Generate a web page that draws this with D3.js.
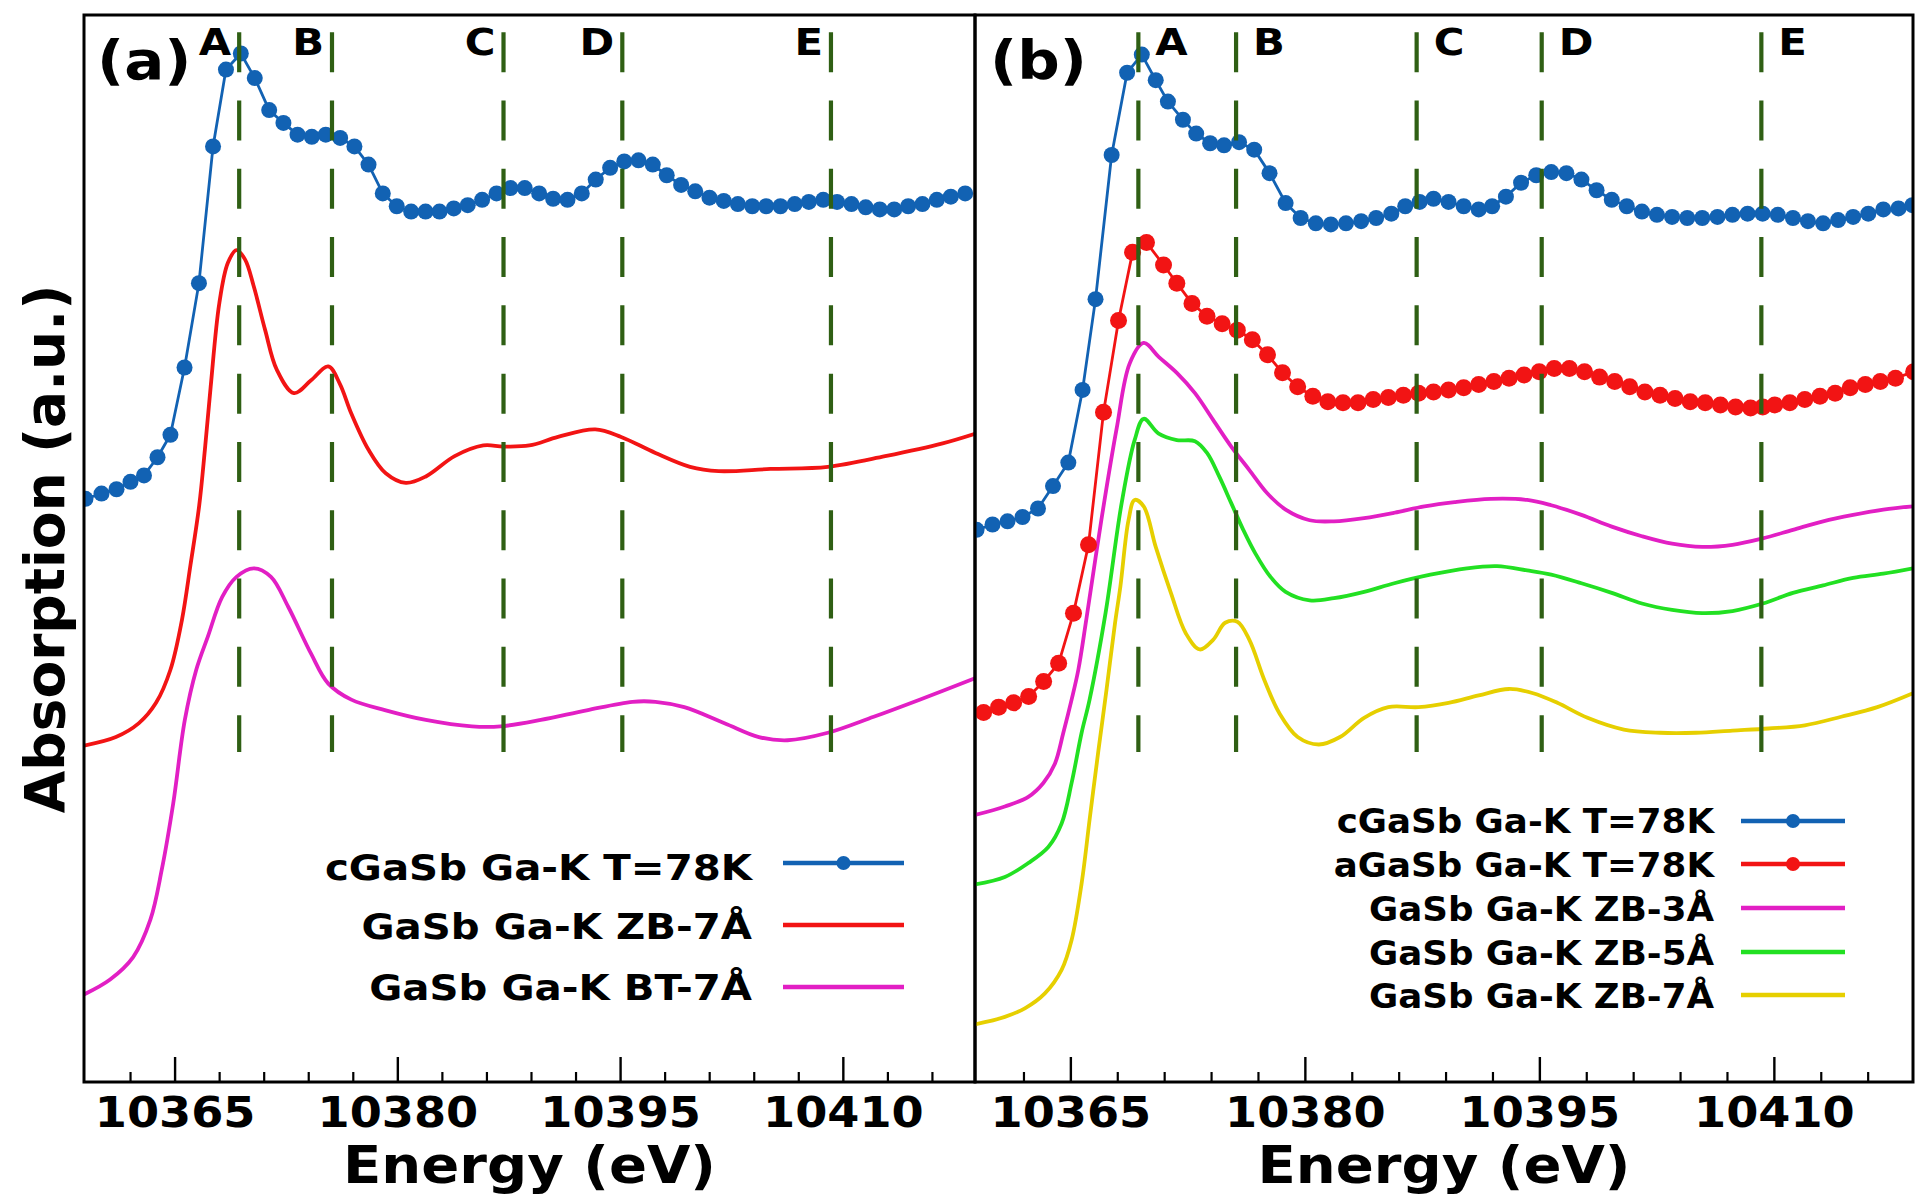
<!DOCTYPE html>
<html><head><meta charset="utf-8">
<script src="https://cdnjs.cloudflare.com/ajax/libs/d3/7.8.5/d3.min.js"></script>
<style>
html,body{margin:0;padding:0;background:#fff;}
svg{display:block;}
text{font-family:"DejaVu Sans",sans-serif;font-weight:bold;fill:#000;}
</style>
</head><body>
<svg id="chart" width="1917" height="1199"></svg>
<script>
// ---------------- DATA ----------------
const xDomain = [10358.9, 10418.9];
const yDomain = [0, 10];
const majorTicks = [10365, 10380, 10395, 10410];
const tickLabels = ["10365", "10380", "10395", "10410"];
const minorTicks = [10362, 10368, 10371, 10374, 10377, 10383, 10386, 10389, 10392, 10398, 10401, 10404, 10407, 10413, 10416];
const featureEnergies = [10369.35, 10375.6, 10387.15, 10395.15, 10409.2];
const featureLabels = ["A", "B", "C", "D", "E"];
const featureSpan = [3.09, 9.83];
const panelTags = ["(a)", "(b)"];
const xTitle = "Energy (eV)";
const yTitle = "Absorption (a.u.)";

// panel (a) : experiment cGaSb, T=78K
const cGaSbA = [[10359.00,5.46],[10360.08,5.51],[10361.09,5.55],[10362.03,5.62],[10362.94,5.68],[10363.85,5.85],[10364.72,6.06],[10365.67,6.69],[10366.64,7.48],[10367.59,8.76],[10368.46,9.48],[10369.46,9.63],[10370.40,9.40],[10371.37,9.10],[10372.33,8.98],[10373.28,8.87],[10374.24,8.85],[10375.18,8.87],[10376.15,8.84],[10377.11,8.76],[10378.06,8.59],[10379.02,8.32],[10379.96,8.20],[10380.93,8.15],[10381.90,8.15],[10382.84,8.15],[10383.80,8.18],[10384.74,8.21],[10385.71,8.26],[10386.68,8.32],[10387.62,8.37],[10388.58,8.37],[10389.55,8.32],[10390.49,8.27],[10391.46,8.26],[10392.42,8.32],[10393.36,8.45],[10394.33,8.56],[10395.28,8.62],[10396.24,8.63],[10397.20,8.59],[10398.14,8.49],[10399.11,8.40],[10400.06,8.34],[10401.02,8.28],[10401.98,8.25],[10402.93,8.22],[10403.90,8.20],[10404.84,8.20],[10405.80,8.20],[10406.76,8.22],[10407.71,8.24],[10408.68,8.26],[10409.61,8.24],[10410.58,8.22],[10411.54,8.19],[10412.49,8.17],[10413.46,8.17],[10414.40,8.20],[10415.36,8.22],[10416.33,8.26],[10417.27,8.29],[10418.24,8.32]];
// panel (a) : GaSb Ga-K ZB-7Å
const zb7A = [[10358.9,3.15],[10361.05,3.23],[10362.60,3.36],[10363.75,3.55],[10364.72,3.86],[10365.50,4.33],[10366.07,4.84],[10366.66,5.40],[10367.04,5.92],[10367.43,6.51],[10368.01,7.29],[10368.59,7.67],[10369.17,7.79],[10369.75,7.70],[10370.33,7.45],[10371.10,7.04],[10371.88,6.67],[10373.03,6.45],[10374.19,6.57],[10375.35,6.70],[10376.12,6.54],[10376.90,6.26],[10378.06,5.92],[10379.22,5.70],[10380.57,5.61],[10381.92,5.67],[10383.86,5.86],[10385.79,5.96],[10387.14,5.95],[10388.89,5.96],[10390.82,6.04],[10393.33,6.11],[10395.07,6.04],[10397.38,5.89],[10399.71,5.76],[10401.64,5.72],[10405.12,5.74],[10408.99,5.76],[10412.85,5.86],[10416.72,5.98],[10418.9,6.07]];
// panel (a) : GaSb Ga-K BT-7Å
const bt7A = [[10358.9,0.82],[10360.66,0.96],[10362.21,1.17],[10363.37,1.52],[10364.14,1.99],[10364.91,2.61],[10365.69,3.39],[10366.46,3.86],[10367.24,4.17],[10368.20,4.54],[10369.17,4.73],[10370.33,4.81],[10371.49,4.73],[10372.65,4.45],[10374.19,4.01],[10375.35,3.73],[10376.90,3.58],[10379.22,3.48],[10381.92,3.39],[10385.02,3.33],[10386.95,3.33],[10389.66,3.39],[10392.75,3.48],[10395.84,3.56],[10397.38,3.56],[10399.32,3.51],[10402.03,3.36],[10404.35,3.23],[10406.28,3.20],[10408.99,3.27],[10412.08,3.42],[10415.17,3.58],[10418.9,3.78]];

// panel (b) : experiment cGaSb
const cGaSbB = [[10359.00,5.17],[10360.02,5.22],[10360.98,5.25],[10361.94,5.29],[10362.93,5.37],[10363.89,5.58],[10364.87,5.80],[10365.78,6.48],[10366.61,7.33],[10367.64,8.68],[10368.63,9.45],[10369.57,9.62],[10370.46,9.38],[10371.24,9.18],[10372.20,9.01],[10373.05,8.88],[10373.94,8.79],[10374.83,8.77],[10375.79,8.80],[10376.76,8.73],[10377.74,8.51],[10378.77,8.23],[10379.73,8.09],[10380.70,8.04],[10381.66,8.03],[10382.63,8.04],[10383.60,8.06],[10384.56,8.09],[10385.53,8.13],[10386.42,8.20],[10387.34,8.24],[10388.23,8.27],[10389.19,8.24],[10390.16,8.20],[10391.12,8.17],[10391.98,8.20],[10392.86,8.29],[10393.83,8.42],[10394.80,8.49],[10395.76,8.52],[10396.73,8.51],[10397.69,8.45],[10398.66,8.35],[10399.63,8.26],[10400.59,8.20],[10401.56,8.15],[10402.52,8.12],[10403.49,8.10],[10404.46,8.09],[10405.42,8.09],[10406.39,8.10],[10407.35,8.12],[10408.32,8.13],[10409.28,8.13],[10410.25,8.12],[10411.22,8.09],[10412.18,8.06],[10413.15,8.04],[10414.11,8.07],[10415.07,8.10],[10416.04,8.13],[10417.00,8.17],[10417.97,8.18],[10418.86,8.21]];
// panel (b) : experiment aGaSb
const aGaSbB = [[10359.45,3.46],[10360.41,3.51],[10361.37,3.55],[10362.33,3.61],[10363.29,3.75],[10364.25,3.92],[10365.20,4.39],[10366.16,5.03],[10367.12,6.27],[10368.08,7.13],[10368.98,7.77],[10369.87,7.86],[10370.96,7.65],[10371.81,7.48],[10372.78,7.29],[10373.74,7.17],[10374.71,7.10],[10375.68,7.04],[10376.64,6.95],[10377.61,6.81],[10378.57,6.64],[10379.54,6.51],[10380.51,6.42],[10381.47,6.37],[10382.44,6.36],[10383.40,6.36],[10384.37,6.39],[10385.34,6.41],[10386.30,6.43],[10387.27,6.45],[10388.23,6.46],[10389.19,6.48],[10390.16,6.50],[10391.12,6.53],[10392.09,6.56],[10393.06,6.59],[10394.02,6.62],[10394.99,6.65],[10395.95,6.68],[10396.92,6.68],[10397.89,6.65],[10398.85,6.60],[10399.82,6.56],[10400.78,6.51],[10401.75,6.46],[10402.72,6.43],[10403.68,6.40],[10404.65,6.37],[10405.61,6.36],[10406.58,6.34],[10407.55,6.32],[10408.51,6.31],[10409.29,6.32],[10410.06,6.34],[10411.02,6.36],[10411.98,6.39],[10412.95,6.42],[10413.92,6.45],[10414.88,6.50],[10415.85,6.53],[10416.81,6.56],[10417.78,6.59],[10418.94,6.65]];
// panel (b) : GaSb Ga-K ZB-3Å
const zb3B = [[10358.9,2.50],[10360.81,2.58],[10362.31,2.67],[10363.27,2.80],[10364.01,2.98],[10364.55,3.27],[10365.08,3.58],[10365.51,3.86],[10366.02,4.33],[10366.98,5.26],[10367.95,6.11],[10368.80,6.73],[10369.69,6.92],[10370.65,6.79],[10371.81,6.64],[10372.97,6.45],[10374.13,6.20],[10375.29,5.95],[10376.45,5.73],[10377.61,5.51],[10378.77,5.36],[10380.31,5.26],[10381.86,5.25],[10383.79,5.28],[10385.72,5.33],[10387.65,5.39],[10389.58,5.43],[10391.90,5.46],[10394.22,5.45],[10395.76,5.40],[10397.69,5.31],[10399.63,5.20],[10401.56,5.11],[10403.49,5.04],[10405.42,5.01],[10407.35,5.03],[10409.29,5.09],[10411.22,5.17],[10413.15,5.25],[10415.07,5.31],[10417.00,5.36],[10418.9,5.39]];
// panel (b) : GaSb Ga-K ZB-5Å
const zb5B = [[10358.9,1.85],[10360.81,1.92],[10362.31,2.05],[10363.59,2.20],[10364.44,2.42],[10365.08,2.80],[10365.72,3.27],[10366.23,3.58],[10367.25,4.39],[10368.28,5.42],[10369.11,6.01],[10369.69,6.21],[10370.65,6.07],[10371.81,6.01],[10372.97,6.00],[10373.74,5.89],[10374.52,5.67],[10375.29,5.42],[10376.06,5.17],[10376.83,4.95],[10377.80,4.73],[10378.77,4.59],[10380.31,4.51],[10381.86,4.53],[10383.79,4.59],[10385.72,4.67],[10388.03,4.75],[10390.36,4.81],[10392.29,4.83],[10394.22,4.79],[10395.76,4.75],[10397.69,4.67],[10399.63,4.58],[10401.56,4.48],[10403.49,4.42],[10405.42,4.39],[10407.35,4.41],[10409.29,4.48],[10411.22,4.58],[10413.15,4.65],[10415.07,4.72],[10417.00,4.76],[10418.9,4.81]];
// panel (b) : GaSb Ga-K ZB-7Å
const zb7B = [[10358.9,0.54],[10360.81,0.61],[10362.09,0.69],[10363.37,0.83],[10364.44,1.05],[10365.08,1.33],[10365.72,1.86],[10366.25,2.48],[10366.80,3.11],[10367.31,3.67],[10367.86,4.30],[10368.20,4.64],[10368.72,5.26],[10369.11,5.45],[10369.69,5.39],[10370.46,5.01],[10371.43,4.58],[10372.39,4.20],[10373.28,4.05],[10374.13,4.14],[10374.90,4.30],[10375.68,4.31],[10376.45,4.14],[10377.42,3.76],[10378.38,3.45],[10379.54,3.23],[10380.89,3.16],[10382.25,3.23],[10383.79,3.41],[10385.34,3.51],[10387.27,3.51],[10389.19,3.55],[10391.12,3.62],[10393.06,3.68],[10394.60,3.64],[10396.15,3.55],[10398.08,3.41],[10400.40,3.30],[10402.72,3.27],[10405.03,3.27],[10407.35,3.29],[10409.67,3.31],[10411.98,3.34],[10414.31,3.42],[10416.62,3.51],[10418.9,3.64]];

const legendLabelsA = ["cGaSb Ga-K T=78K", "GaSb Ga-K ZB-7Å", "GaSb Ga-K BT-7Å"];
const legendLabelsB = ["cGaSb Ga-K T=78K", "aGaSb Ga-K T=78K", "GaSb Ga-K ZB-3Å", "GaSb Ga-K ZB-5Å", "GaSb Ga-K ZB-7Å"];

// ---------------- STYLE / LAYOUT ----------------
const C = {blue:"#1262b3", red:"#f21414", magenta:"#e21fc4", green:"#22e022", yellow:"#e6cf00", dash:"#2f5f14"};
const TOP = 15, BOTTOM = 1082;
const SX = 1.1; // horizontal text stretch of the original

const panels = [
  {x0:84, x1:975, tag:panelTags[0], tagX:97, labelSide:"left",
   series:[
     {data:bt7A, color:C.magenta, dots:false},
     {data:zb7A, color:C.red, dots:false},
     {data:cGaSbA, color:C.blue, dots:true, r:8}
   ],
   legend:{labels:legendLabelsA, colors:[C.blue,C.red,C.magenta], dots:[true,false,false],
           textX:752, baselines:[880,939,1000], lineY:[863,925,987], lx0:783, lx1:904, font:36, sx:1.12}},
  {x0:975, x1:1913, tag:panelTags[1], tagX:990, labelSide:"right",
   series:[
     {data:zb7B, color:C.yellow, dots:false},
     {data:zb5B, color:C.green, dots:false},
     {data:zb3B, color:C.magenta, dots:false},
     {data:aGaSbB, color:C.red, dots:true, r:8.5},
     {data:cGaSbB, color:C.blue, dots:true, r:8}
   ],
   legend:{labels:legendLabelsB, colors:[C.blue,C.red,C.magenta,C.green,C.yellow], dots:[true,true,false,false,false],
           textX:1714, baselines:[833,877,921,965,1008], lineY:[821,864,908,952,995], lx0:1741, lx1:1845, font:33, sx:1.08}}
];

const svg = d3.select("#chart");
svg.append("rect").attr("width",1917).attr("height",1199).attr("fill","#fff");

const y = d3.scaleLinear().domain(yDomain).range([BOTTOM, 14]);

function stretchedText(g, x, yy, str, size, anchor, sx) {
  return g.append("text")
    .attr("transform", `translate(${x},${yy}) scale(${sx},1)`)
    .attr("text-anchor", anchor)
    .attr("font-size", size)
    .text(str);
}

panels.forEach((p, i) => {
  const x = d3.scaleLinear().domain(xDomain).range([p.x0, p.x1]);
  const g = svg.append("g");
  const clipId = "clip" + i;
  svg.append("clipPath").attr("id", clipId).append("rect")
    .attr("x", p.x0).attr("y", TOP).attr("width", p.x1 - p.x0).attr("height", BOTTOM - TOP);

  const plot = g.append("g").attr("clip-path", `url(#${clipId})`);

  const smooth = d3.line().x(d => x(d[0])).y(d => y(d[1])).curve(d3.curveCatmullRom.alpha(0.5));
  const straight = d3.line().x(d => x(d[0])).y(d => y(d[1]));

  p.series.forEach(s => {
    plot.append("path").attr("d", (s.dots ? straight : smooth)(s.data))
      .attr("fill", "none").attr("stroke", s.color)
      .attr("stroke-width", s.dots ? 2.8 : 3.8).attr("stroke-linejoin", "round");
    if (s.dots) {
      plot.append("g").selectAll("circle").data(s.data).join("circle")
        .attr("cx", d => x(d[0])).attr("cy", d => y(d[1])).attr("r", s.r)
        .attr("fill", s.color);
    }
  });

  // dashed feature lines
  plot.append("g").selectAll("line").data(featureEnergies).join("line")
    .attr("x1", d => x(d)).attr("x2", d => x(d))
    .attr("y1", y(featureSpan[1])).attr("y2", y(featureSpan[0]))
    .attr("stroke", C.dash).attr("stroke-width", 4.2).attr("stroke-dasharray", "40,28.3");

  // feature labels
  featureEnergies.forEach((e, k) => {
    if (p.labelSide === "left") stretchedText(g, x(e) - 8, 55, featureLabels[k], 38, "end", SX);
    else stretchedText(g, x(e) + 17, 55, featureLabels[k], 38, "start", SX);
  });

  // panel tag
  stretchedText(g, p.tagX, 79, p.tag, 54, "start", SX);

  // axes: minor ticks
  const minorAxis = d3.axisBottom(x).tickValues(minorTicks).tickSizeInner(-10).tickSizeOuter(0).tickFormat("");
  const ga = g.append("g").attr("transform", `translate(0,${BOTTOM})`).call(minorAxis);
  ga.select(".domain").remove();
  ga.selectAll("line").attr("stroke", "#000").attr("stroke-width", 2.2);

  const majorAxis = d3.axisBottom(x).tickValues(majorTicks).tickSizeInner(-25).tickSizeOuter(0)
    .tickFormat((d, k) => tickLabels[k]);
  const gm = g.append("g").attr("transform", `translate(0,${BOTTOM})`).call(majorAxis);
  gm.select(".domain").remove();
  gm.selectAll("line").attr("stroke", "#000").attr("stroke-width", 2.4);
  gm.selectAll("text").attr("y", 45).attr("dy", null).attr("font-size", 42)
    .attr("font-family", "DejaVu Sans").attr("font-weight", "bold").attr("fill", "#000")
    .attr("transform", `scale(${SX},1)`);

  // x title
  stretchedText(g, (p.x0 + p.x1) / 2, 1183, xTitle, 51, "middle", 1.1);

  // legend
  const L = p.legend;
  L.labels.forEach((lab, k) => {
    stretchedText(g, L.textX, L.baselines[k], lab, L.font, "end", L.sx);
    g.append("line").attr("x1", L.lx0).attr("x2", L.lx1).attr("y1", L.lineY[k]).attr("y2", L.lineY[k])
      .attr("stroke", L.colors[k]).attr("stroke-width", 4.5);
    if (L.dots[k]) g.append("circle").attr("cx", (L.lx0 + L.lx1) / 2).attr("cy", L.lineY[k]).attr("r", 7).attr("fill", L.colors[k]);
  });

  // frame
  g.append("rect").attr("x", p.x0).attr("y", TOP).attr("width", p.x1 - p.x0).attr("height", BOTTOM - TOP)
    .attr("fill", "none").attr("stroke", "#000").attr("stroke-width", 3);
});

// y title
svg.append("text").attr("transform", "translate(64,549) rotate(-90)")
  .attr("text-anchor", "middle").attr("font-size", 55).text(yTitle);
</script>
</body></html>
